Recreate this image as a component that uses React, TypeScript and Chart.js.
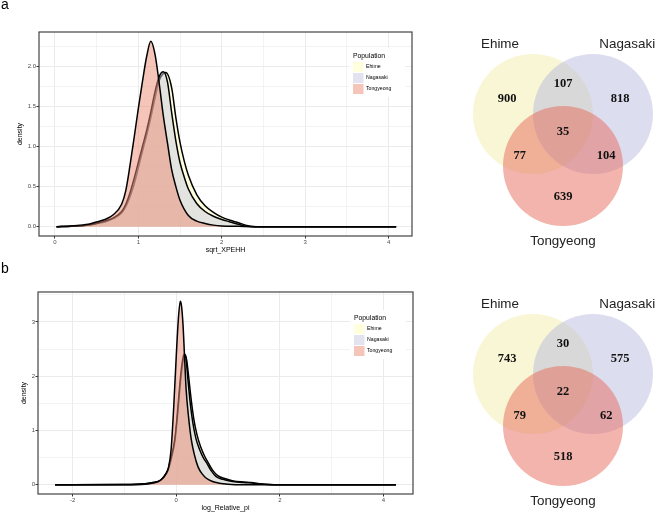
import React, { useEffect, useRef } from 'react';
import { Chart, registerables } from 'chart.js';

Chart.register(...registerables);

const FONT = '"Liberation Sans", Arial, Helvetica, sans-serif';
const SERIF = '"Liberation Serif", "Times New Roman", serif';

const populations = ['Ehime', 'Nagasaki', 'Tongyeong'];

// ---------- Panel a: density of sqrt_XPEHH ----------
const aEhimeX = [0.02, 0.2, 0.3, 0.4, 0.5, 0.6, 0.7, 0.8, 0.85, 0.9, 0.95, 1.0, 1.05, 1.1, 1.15, 1.2, 1.25, 1.3, 1.33, 1.4, 1.45, 1.5, 1.55, 1.6, 1.7, 1.8, 1.9, 2.0, 2.1, 2.2, 2.3, 2.4, 3.0, 4.09];
const aEhimeY = [0, 0.005, 0.01, 0.02, 0.04, 0.06, 0.1, 0.17, 0.25, 0.37, 0.53, 0.73, 0.94, 1.14, 1.36, 1.6, 1.82, 1.91, 1.92, 1.73, 1.36, 1.05, 0.82, 0.64, 0.4, 0.26, 0.18, 0.12, 0.08, 0.05, 0.015, 0, 0, 0];
const aNagasakiX = [0.02, 0.2, 0.3, 0.4, 0.5, 0.6, 0.7, 0.8, 0.85, 0.9, 0.95, 1.0, 1.05, 1.1, 1.15, 1.2, 1.25, 1.3, 1.35, 1.4, 1.45, 1.5, 1.55, 1.6, 1.7, 1.8, 1.9, 2.0, 2.1, 2.2, 2.3, 2.5, 3.0, 4.09];
const aNagasakiY = [0, 0.005, 0.01, 0.02, 0.04, 0.07, 0.11, 0.19, 0.28, 0.42, 0.6, 0.8, 1.0, 1.2, 1.43, 1.68, 1.87, 1.93, 1.8, 1.42, 1.07, 0.8, 0.62, 0.47, 0.29, 0.19, 0.13, 0.09, 0.06, 0.03, 0.005, 0, 0, 0];
const aTongyeongX = [0.02, 0.2, 0.3, 0.4, 0.5, 0.6, 0.7, 0.8, 0.85, 0.9, 0.95, 1.0, 1.05, 1.1, 1.15, 1.2, 1.25, 1.3, 1.35, 1.4, 1.45, 1.5, 1.6, 1.7, 1.8, 1.9, 2.0, 2.2, 2.5, 3.0, 4.09];
const aTongyeongY = [0, 0.01, 0.02, 0.03, 0.06, 0.09, 0.15, 0.28, 0.45, 0.76, 1.11, 1.47, 1.81, 2.12, 2.31, 2.15, 1.79, 1.38, 1.04, 0.71, 0.5, 0.33, 0.14, 0.07, 0.04, 0.02, 0.01, 0.005, 0, 0, 0];

// ---------- Panel b: density of log_Relative_pi ----------
const bEhimeX = [-2.34, -1.0, -0.6, -0.45, -0.32, -0.25, -0.16, -0.1, -0.03, 0.02, 0.06, 0.1, 0.14, 0.17, 0.2, 0.24, 0.29, 0.34, 0.4, 0.47, 0.55, 0.62, 0.7, 0.8, 0.95, 1.1, 1.3, 1.45, 1.6, 1.8, 2.0, 4.24];
const bEhimeY = [0, 0.005, 0.02, 0.04, 0.07, 0.13, 0.26, 0.46, 0.78, 1.22, 1.66, 2.05, 2.32, 2.4, 2.3, 1.98, 1.55, 1.2, 0.92, 0.7, 0.52, 0.4, 0.27, 0.17, 0.11, 0.07, 0.05, 0.04, 0.02, 0.005, 0, 0];
const bNagasakiX = [-2.34, -1.0, -0.6, -0.45, -0.32, -0.25, -0.16, -0.1, -0.03, 0.02, 0.06, 0.1, 0.14, 0.16, 0.19, 0.225, 0.27, 0.32, 0.38, 0.45, 0.52, 0.6, 0.68, 0.77, 0.9, 1.09, 1.3, 1.5, 1.7, 2.0, 4.24];
const bNagasakiY = [0, 0.005, 0.02, 0.04, 0.07, 0.14, 0.28, 0.5, 0.83, 1.3, 1.76, 2.15, 2.38, 2.41, 2.3, 1.94, 1.5, 1.14, 0.85, 0.65, 0.5, 0.38, 0.25, 0.15, 0.1, 0.06, 0.04, 0.03, 0.01, 0, 0];
const bTongyeongX = [-2.34, -1.0, -0.6, -0.45, -0.35, -0.25, -0.2, -0.15, -0.1, -0.05, 0.0, 0.04, 0.077, 0.1, 0.13, 0.16, 0.19, 0.24, 0.29, 0.35, 0.42, 0.5, 0.58, 0.7, 0.83, 1.0, 1.3, 4.24];
const bTongyeongY = [0, 0, 0.01, 0.03, 0.06, 0.13, 0.2, 0.32, 0.65, 1.42, 2.38, 3.05, 3.38, 3.3, 2.95, 2.35, 1.76, 1.22, 0.83, 0.55, 0.33, 0.2, 0.12, 0.06, 0.03, 0.01, 0, 0];

// ---------- Axis ticks ----------
const aXTicks = [0, 1, 2, 3, 4];
const aXMinor = [0.5, 1.5, 2.5, 3.5];
const aYTicks = [0, 0.5, 1, 1.5, 2];
const aYMinor = [0.25, 0.75, 1.25, 1.75, 2.25];
const bXTicks = [-2, 0, 2, 4];
const bXMinor = [-1, 1, 3];
const bYTicks = [0, 1, 2, 3];
const bYMinor = [0.5, 1.5, 2.5, 3.5];

// ---------- Venn counts: [E only, N only, T only, E&N, E&T, N&T, all] ----------
const vennRegions = ['Ehime only', 'Nagasaki only', 'Tongyeong only', 'Ehime & Nagasaki', 'Ehime & Tongyeong', 'Nagasaki & Tongyeong', 'All'];
const vennACounts = [900, 818, 639, 107, 77, 104, 35];
const vennBCounts = [743, 575, 518, 30, 79, 62, 22];

// ---------- Styles / layout ----------
const densityFill = ['rgba(255,255,190,0.5)', 'rgba(200,200,225,0.5)', 'rgba(235,140,115,0.5)'];
const vennFill = ['rgba(240,236,160,0.45)', 'rgba(180,180,222,0.45)', 'rgba(230,105,90,0.5)'];
const vennCenters = [{ x: -0.5, y: 0.433 }, { x: 0.5, y: 0.433 }, { x: 0, y: -0.433 }];
const vennCountPos = [[-0.93, 0.68], [0.95, 0.68], [0, -0.95], [0, 0.93], [-0.72, -0.27], [0.72, -0.27], [0, 0.13]];
const vennLabelPos = [[-1.05, 1.6], [1.07, 1.6], [0, -1.68]];

type Series = { x: number[]; y: number[] };
interface DensityProps {
  top: number;
  height: number;
  series: Series[];
  xRange: [number, number];
  yRange: [number, number];
  xMajor: number[];
  xMinor: number[];
  yMajor: number[];
  yMinor: number[];
  xFmt: (v: number) => string;
  yFmt: (v: number) => string;
  xTitle: string;
  yAxisW: number;
  padRight: number;
  xAxisH: number;
  xTitlePad: number;
  yTitlePad: number;
  legendTop: number;
}

const near = (arr: number[], v: number) => arr.some((m) => Math.abs(m - v) < 1e-6);

function DensityPanel(p: DensityProps) {
  const ref = useRef<HTMLCanvasElement>(null);
  useEffect(() => {
    const canvas = ref.current!;
    const decor = {
      id: 'decor',
      afterDatasetsDraw(chart: any) {
        const { ctx, chartArea: ca } = chart;
        ctx.save();
        const keyX = ca.right - 59;
        const titleY = ca.top + p.legendTop;
        const keyY0 = titleY + 11;
        ctx.fillStyle = '#fff';
        ctx.fillRect(keyX - 4, titleY - 8, 56, 11 * 3 + 16);
        ctx.fillStyle = '#000';
        ctx.font = `6.8px ${FONT}`;
        ctx.textAlign = 'left';
        ctx.textBaseline = 'middle';
        ctx.fillText('Population', keyX, titleY);
        populations.forEach((name, i) => {
          const cy = keyY0 + 11 * i;
          ctx.fillStyle = densityFill[i];
          ctx.fillRect(keyX, cy - 5, 10.5, 10);
          ctx.fillStyle = '#000';
          ctx.font = `5.2px ${FONT}`;
          ctx.fillText(name, keyX + 13, cy);
        });
        ctx.strokeStyle = '#444';
        ctx.lineWidth = 1.2;
        ctx.strokeRect(ca.left, ca.top, ca.right - ca.left, ca.bottom - ca.top);
        ctx.restore();
      },
    };
    const datasets = populations.map((name, i) => ({
      label: name,
      data: p.series[i].x.map((x, k) => ({ x, y: p.series[i].y[k] })),
      backgroundColor: densityFill[i],
      borderColor: '#000',
      borderWidth: 1.5,
      fill: 'origin',
      pointRadius: 0,
      cubicInterpolationMode: 'monotone',
      order: populations.length - i,
    }));
    const gridOpts = (major: number[]) => ({
      color: '#ebebeb',
      lineWidth: (c: any) => (c.tick && near(major, c.tick.value) ? 1 : 0.6),
      tickLength: 2.5,
      tickColor: (c: any) => (c.tick && near(major, c.tick.value) ? '#333' : 'rgba(0,0,0,0)'),
      tickWidth: 1,
    });
    const chart = new Chart(canvas, {
      type: 'line',
      data: { datasets } as any,
      plugins: [decor],
      options: {
        responsive: false,
        animation: false,
        maintainAspectRatio: false,
        layout: { padding: { top: 32, right: p.padRight, left: 0, bottom: 0 } },
        plugins: { legend: { display: false }, tooltip: { enabled: false } },
        scales: {
          x: {
            type: 'linear',
            min: p.xRange[0],
            max: p.xRange[1],
            bounds: 'data',
            afterBuildTicks: (s: any) => {
              s.ticks = [...p.xMajor, ...p.xMinor].sort((a, b) => a - b).map((v) => ({ value: v }));
            },
            afterFit: (s: any) => {
              s.height = p.xAxisH;
            },
            ticks: {
              autoSkip: false,
              maxRotation: 0,
              minRotation: 0,
              padding: 0,
              color: '#4d4d4d',
              font: { size: 6, family: FONT },
              callback: (v: any) => (near(p.xMajor, Number(v)) ? p.xFmt(Number(v)) : ''),
            },
            grid: gridOpts(p.xMajor),
            border: { display: false },
            title: {
              display: true,
              text: p.xTitle,
              color: '#000',
              font: { size: 7, family: FONT },
              padding: { top: 0, bottom: p.xTitlePad },
            },
          },
          y: {
            type: 'linear',
            min: p.yRange[0],
            max: p.yRange[1],
            bounds: 'data',
            afterBuildTicks: (s: any) => {
              s.ticks = [...p.yMajor, ...p.yMinor].sort((a, b) => a - b).map((v) => ({ value: v }));
            },
            afterFit: (s: any) => {
              s.width = p.yAxisW;
            },
            ticks: {
              autoSkip: false,
              padding: 0.5,
              color: '#4d4d4d',
              font: { size: 6, family: FONT },
              callback: (v: any) => (near(p.yMajor, Number(v)) ? p.yFmt(Number(v)) : ''),
            },
            grid: gridOpts(p.yMajor),
            border: { display: false },
            title: {
              display: true,
              text: 'density',
              color: '#000',
              font: { size: 7, family: FONT },
              padding: { top: p.yTitlePad, bottom: 0 },
            },
          },
        },
      } as any,
    });
    return () => chart.destroy();
  }, []);
  return (
    <canvas
      ref={ref}
      width={420}
      height={p.height}
      style={{ position: 'absolute', left: 0, top: p.top, width: 420, height: p.height, display: 'block' }}
    />
  );
}

function VennPanel({ top, counts }: { top: number; counts: number[] }) {
  const ref = useRef<HTMLCanvasElement>(null);
  useEffect(() => {
    const canvas = ref.current!;
    const texts = {
      id: 'vennText',
      afterDatasetsDraw(chart: any) {
        const { ctx, scales } = chart;
        const px = (x: number) => scales.x.getPixelForValue(x);
        const py = (y: number) => scales.y.getPixelForValue(y);
        ctx.save();
        ctx.textAlign = 'center';
        ctx.textBaseline = 'middle';
        ctx.fillStyle = '#111';
        ctx.font = `bold 12.5px ${SERIF}`;
        vennRegions.forEach((_, i) => {
          ctx.fillText(String(counts[i]), px(vennCountPos[i][0]), py(vennCountPos[i][1]));
        });
        ctx.fillStyle = '#222';
        ctx.font = `13.4px ${FONT}`;
        populations.forEach((name, i) => {
          ctx.fillText(name, px(vennLabelPos[i][0]), py(vennLabelPos[i][1]));
        });
        ctx.restore();
      },
    };
    const radius = (c: any) => {
      const s = c.chart.scales.x;
      return s ? Math.abs(s.getPixelForValue(1) - s.getPixelForValue(0)) : 60;
    };
    const chart = new Chart(canvas, {
      type: 'scatter',
      data: {
        datasets: populations.map((name, i) => ({
          label: name,
          data: [vennCenters[i]],
          backgroundColor: vennFill[i],
          borderWidth: 0,
          pointRadius: radius,
          pointHoverRadius: radius,
          order: populations.length - i,
        })),
      } as any,
      plugins: [texts],
      options: {
        responsive: false,
        animation: false,
        maintainAspectRatio: false,
        layout: { padding: 0 },
        plugins: { legend: { display: false }, tooltip: { enabled: false } },
        events: [],
        scales: {
          x: { type: 'linear', display: false, min: -2.383, max: 1.583 },
          y: { type: 'linear', display: false, min: -1.933, max: 2.333 },
        },
      } as any,
    });
    return () => chart.destroy();
  }, []);
  return (
    <canvas
      ref={ref}
      width={238}
      height={256}
      style={{ position: 'absolute', left: 420, top, width: 238, height: 256, display: 'block' }}
    />
  );
}

export default function App() {
  const lbl: React.CSSProperties = { position: 'absolute', left: 1, font: `14px ${FONT}`, lineHeight: '14px', color: '#000' };
  return (
    <div style={{ position: 'fixed', left: 0, top: 0, width: 658, height: 512, background: '#fff', overflow: 'hidden' }}>
      <DensityPanel
        top={0}
        height={256}
        series={[
          { x: aEhimeX, y: aEhimeY },
          { x: aNagasakiX, y: aNagasakiY },
          { x: aTongyeongX, y: aTongyeongY },
        ]}
        xRange={[-0.19, 4.28]}
        yRange={[-0.1155, 2.4255]}
        xMajor={aXTicks}
        xMinor={aXMinor}
        yMajor={aYTicks}
        yMinor={aYMinor}
        xFmt={(v) => String(v)}
        yFmt={(v) => v.toFixed(1)}
        xTitle="sqrt_XPEHH"
        yAxisW={39}
        padRight={8}
        xAxisH={20}
        xTitlePad={1.8}
        yTitlePad={16.3}
        legendTop={24}
      />
      <VennPanel top={0} counts={vennACounts} />
      <DensityPanel
        top={260}
        height={252}
        series={[
          { x: bEhimeX, y: bEhimeY },
          { x: bNagasakiX, y: bNagasakiY },
          { x: bTongyeongX, y: bTongyeongY },
        ]}
        xRange={[-2.669, 4.569]}
        yRange={[-0.17, 3.55]}
        xMajor={bXTicks}
        xMinor={bXMinor}
        yMajor={bYTicks}
        yMinor={bYMinor}
        xFmt={(v) => String(v)}
        yFmt={(v) => String(v)}
        xTitle="log_Relative_pi"
        yAxisW={38}
        padRight={7}
        xAxisH={18}
        xTitlePad={0.1}
        yTitlePad={19.8}
        legendTop={26}
      />
      <VennPanel top={260} counts={vennBCounts} />
      <div style={{ ...lbl, top: -3 }}>a</div>
      <div style={{ ...lbl, top: 261 }}>b</div>
    </div>
  );
}
